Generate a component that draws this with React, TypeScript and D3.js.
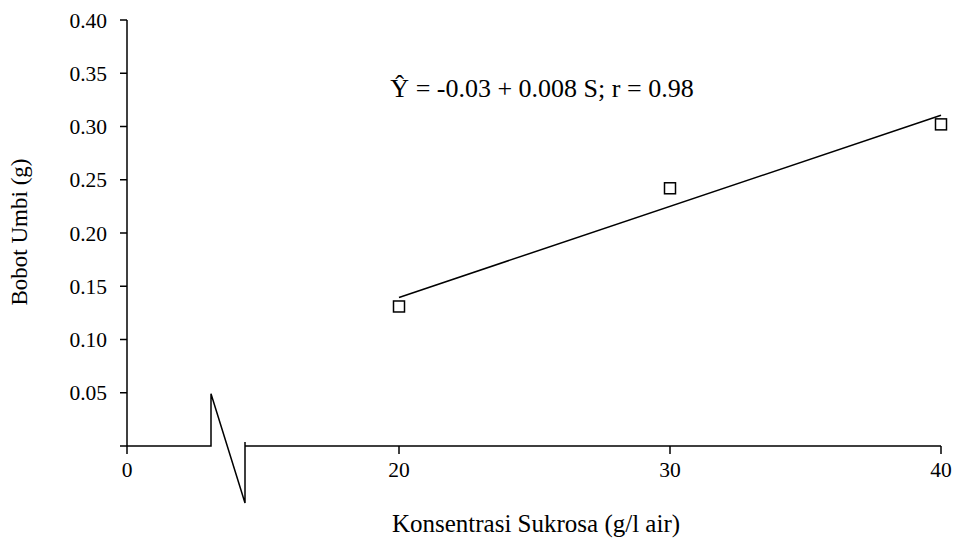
import React from "react";
import * as d3 from "d3";

// Sucrose concentration (g/l water) and tuber weight (g)
const concentrations = [20, 30, 40];
const tuberWeights = [0.131, 0.242, 0.302];
const yTicks = [0.05, 0.1, 0.15, 0.2, 0.25, 0.3, 0.35, 0.4];
const xTicks = [20, 30, 40];
const equationLabel = "Ŷ = -0.03 + 0.008 S; r = 0.98";
const xTitle = "Konsentrasi Sukrosa (g/l air)";
const yTitle = "Bobot Umbi (g)";

const W = 957;
const H = 547;
const originX = 127;
const font = "'Liberation Serif', 'Times New Roman', 'DejaVu Serif', serif";
const textStyle = { fontFamily: font };

export default function App() {
  const x = d3.scaleLinear().domain([20, 40]).range([399, 941]);
  const y = d3.scaleLinear().domain([0, 0.4]).range([446, 20]);

  // least-squares fit through the observations
  const mx = d3.mean(concentrations)!;
  const my = d3.mean(tuberWeights)!;
  const sxy = d3.sum(concentrations, (c, i) => (c - mx) * (tuberWeights[i] - my));
  const sxx = d3.sum(concentrations, (c) => (c - mx) ** 2);
  const slope = sxy / sxx;
  const intercept = my - slope * mx;
  const xMin = d3.min(concentrations)!;
  const xMax = d3.max(concentrations)!;
  const fitLine = d3
    .line<number>()
    .x((c) => x(c))
    .y((c) => y(intercept + slope * c))([xMin, xMax]);

  const y0 = y(0);
  // axis break: gap between origin and the scaled part of the x axis
  const breakLeft = originX + 84;
  const breakRight = originX + 118;
  const breakPath = [
    `M${originX},${y0}H${breakLeft}V${y(0.05) + 1}`,
    `L${breakRight},${y0 + 57}V${y0 - 4}`,
    `M${breakRight},${y0}H${x(40)}`,
  ].join("");

  const sq = 11;

  return (
    <svg
      width={W}
      height={H}
      style={{ position: "absolute", left: 0, top: 0, background: "#fff" }}
    >
      {/* y axis */}
      <line x1={originX} x2={originX} y1={y(0.4)} y2={y0 + 8} stroke="#000" strokeWidth={1.5} />
      {[0, ...yTicks].map((t) => (
        <line key={t} x1={originX - 7} x2={originX} y1={y(t)} y2={y(t)} stroke="#000" strokeWidth={1.5} />
      ))}
      {yTicks.map((t) => (
        <text key={t} x={107} y={y(t)} dy="0.35em" textAnchor="end" fontSize={21.5} fill="#000" style={textStyle}>
          {t.toFixed(2)}
        </text>
      ))}

      {/* broken x axis */}
      <path d={breakPath} fill="none" stroke="#000" strokeWidth={1.5} />
      {xTicks.map((t) => (
        <line key={t} x1={x(t)} x2={x(t)} y1={y0} y2={y0 + 8} stroke="#000" strokeWidth={1.5} />
      ))}
      <text x={originX} y={y0 + 31} textAnchor="middle" fontSize={21.5} fill="#000" style={textStyle}>0</text>
      {xTicks.map((t) => (
        <text key={t} x={x(t)} y={y0 + 31} textAnchor="middle" fontSize={21.5} fill="#000" style={textStyle}>
          {t}
        </text>
      ))}

      {/* regression line and observations */}
      <path d={fitLine!} fill="none" stroke="#000" strokeWidth={1.5} />
      {concentrations.map((c, i) => (
        <rect
          key={c}
          x={x(c) - sq / 2}
          y={y(tuberWeights[i]) - sq / 2}
          width={sq}
          height={sq}
          fill="#fff"
          stroke="#000"
          strokeWidth={1.5}
        />
      ))}

      <text x={542} y={97} textAnchor="middle" fontSize={26} fill="#000" style={textStyle}>
        {equationLabel}
      </text>

      <text x={536} y={532} textAnchor="middle" fontSize={25} fill="#000" style={textStyle}>
        {xTitle}
      </text>
      <text
        transform={`translate(27, ${232}) rotate(-90)`}
        textAnchor="middle"
        fontSize={23}
        fill="#000"
        style={textStyle}
      >
        {yTitle}
      </text>
    </svg>
  );
}
